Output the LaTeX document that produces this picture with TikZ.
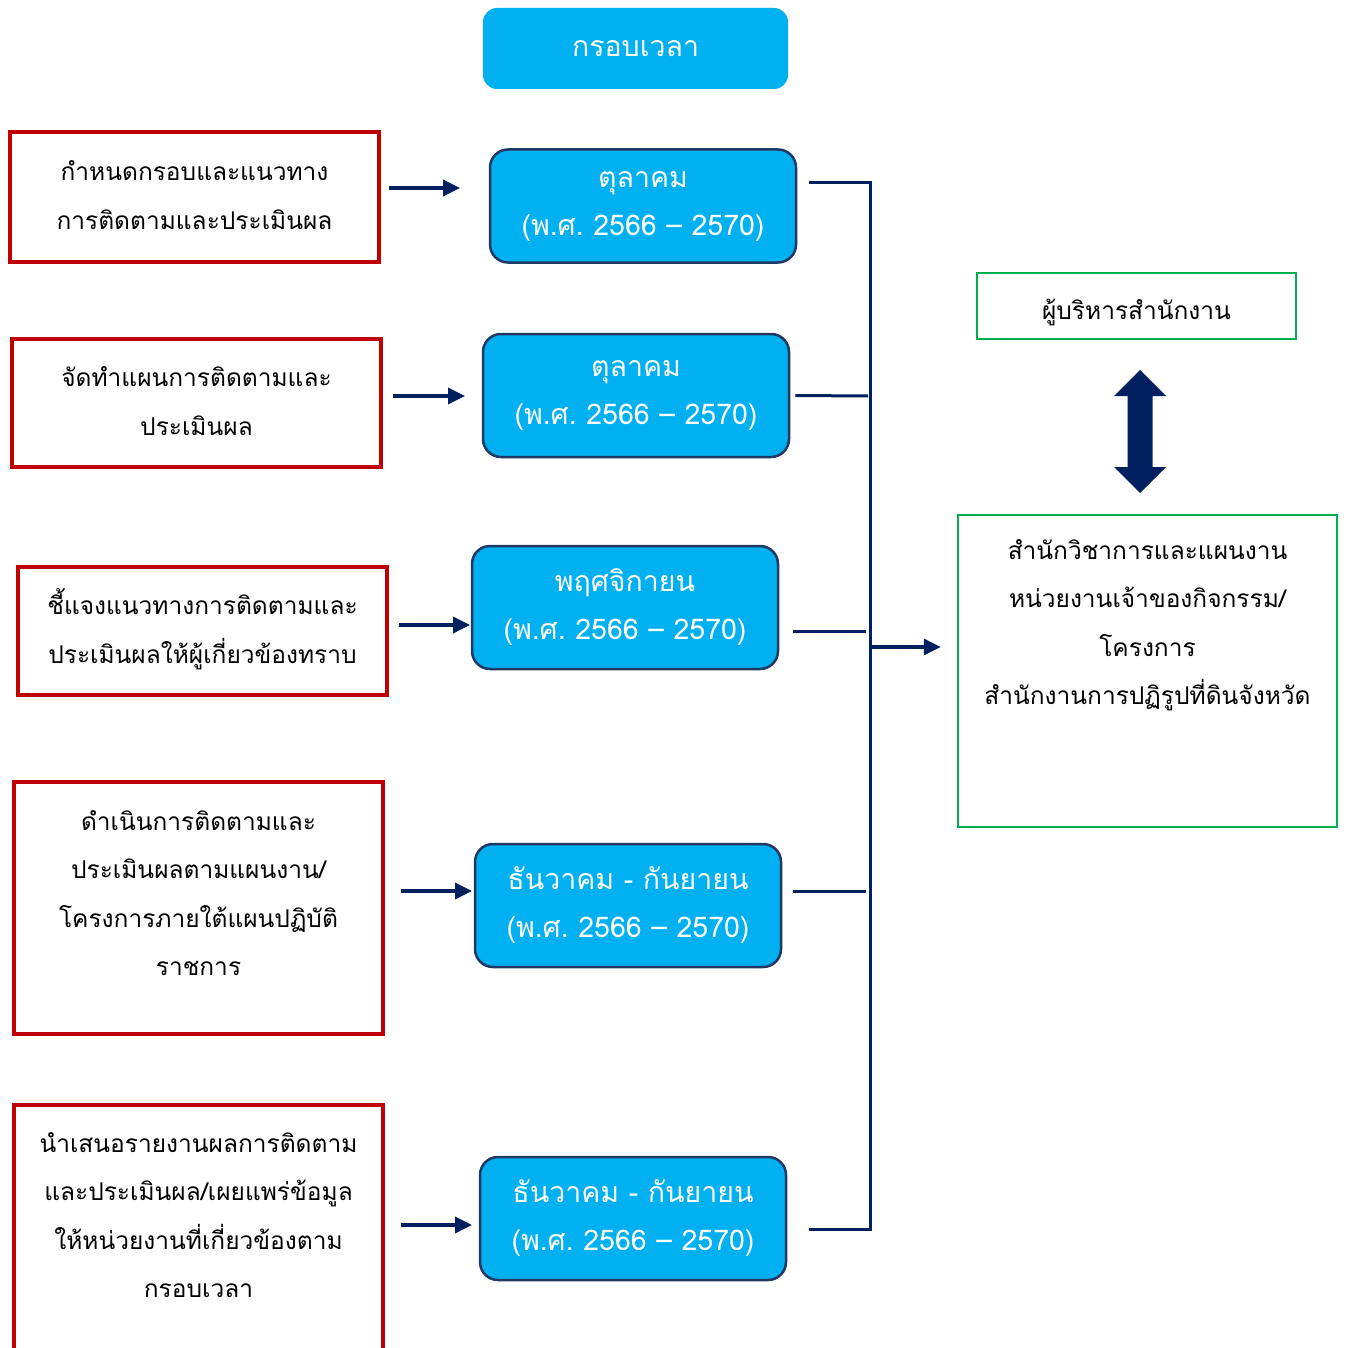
\documentclass[tikz,border=0pt]{standalone}
\usepackage{fontspec}
\newfontfamily\thai[Script=Thai]{Loma}
\usetikzlibrary{arrows.meta,calc}
\definecolor{navy}{HTML}{002060}
\definecolor{cyanb}{HTML}{00B0F0}
\definecolor{redb}{HTML}{C00000}
\definecolor{greenb}{HTML}{00B050}
\definecolor{bord}{HTML}{203864}
\frenchspacing
\begin{document}
\begin{tikzpicture}[x=1pt,y=-1pt,
  redbox/.style={draw=redb,line width=3.5pt,inner sep=0pt,minimum width=369pt},
  greenbox/.style={draw=greenb,line width=2.5pt,inner sep=0pt},
  bluebox/.style={draw=bord,fill=cyanb,line width=2.5pt,rounded corners=18pt,inner sep=0pt,
     minimum width=306pt,minimum height=123pt,text=white,align=center,
     font=\thai\fontsize{28.5}{48}\selectfont},
  topbox/.style={fill=cyanb,rounded corners=14pt,inner sep=0pt,minimum width=305pt,minimum height=81pt,
     text=white,font=\thai\fontsize{28.5}{34}\selectfont},
  txt/.style={align=center,inner sep=0pt,font=\thai\fontsize{24.5}{48.5}\selectfont,text=black},
  arr/.style={draw=navy,line width=3.5pt,-{Triangle[length=17pt,width=16pt]}},
  conn/.style={draw=navy,line width=3pt}]
\useasboundingbox (0,0) rectangle (1346,1348);
\clip (0,0) rectangle (1346,1348);
\fill[white] (0,0) rectangle (1346,1348);

% top box
\node[topbox] (top) at (635.5,48.5) {กรอบเวลา};

% red boxes
\node[redbox,minimum height=130pt] (r1) at (194.5,197) {};
\node[txt] (t1) at (194.5,195) {กำหนดกรอบและแนวทาง\\การติดตามและประเมินผล};
\node[redbox,minimum height=128pt] (r2) at (196.5,403) {};
\node[txt] (t2) at (196.5,401) {จัดทำแผนการติดตามและ\\ประเมินผล};
\node[redbox,minimum height=128pt] (r3) at (202.5,631) {};
\node[txt] (t3) at (202.5,629) {ชี้แจงแนวทางการติดตามและ\\ประเมินผลให้ผู้เกี่ยวข้องทราบ};
\node[redbox,minimum height=252pt] (r4) at (198.5,908) {};
\node[txt] (t4) at (198.5,893) {ดำเนินการติดตามและ\\ประเมินผลตามแผนงาน/\\โครงการภายใต้แผนปฏิบัติ\\ราชการ};
\node[redbox,minimum height=255pt] (r5) at (198.5,1232.5) {};
\node[txt] (t5) at (198.5,1215) {นำเสนอรายงานผลการติดตาม\\และประเมินผล/เผยแพร่ข้อมูล\\ให้หน่วยงานที่เกี่ยวข้องตาม\\กรอบเวลา};

% blue boxes
\node[bluebox,minimum height=113pt] (b1) at (643,206) {ตุลาคม\\(พ.ศ. 2566 – 2570)};
\node[bluebox] (b2) at (636,395.5) {ตุลาคม\\(พ.ศ. 2566 – 2570)};
\node[bluebox] (b3) at (625,607.5) {พฤศจิกายน\\(พ.ศ. 2566 – 2570)};
\node[bluebox] (b4) at (628,905.5) {ธันวาคม - กันยายน\\(พ.ศ. 2566 – 2570)};
\node[bluebox] (b5) at (633,1218.5) {ธันวาคม - กันยายน\\(พ.ศ. 2566 – 2570)};

% green boxes
\node[greenbox,minimum width=319pt,minimum height=66pt] (g1) at (1136.5,306) {};
\node[txt] (tg1) at (1136.5,312) {ผู้บริหารสำนักงาน};
\node[greenbox,minimum width=379pt,minimum height=312pt] (g2) at (1147.5,671) {};
\node[txt] (tg2) at (1147.5,625) {สำนักวิชาการและแผนงาน\\หน่วยงานเจ้าของกิจกรรม/\\โครงการ\\สำนักงานการปฏิรูปที่ดินจังหวัด};

% left arrows
\coordinate (e1) at (460,188);
\coordinate (e2) at (465,396);
\coordinate (e3) at (470,625);
\coordinate (e4) at (472,891);
\coordinate (e5) at (472,1225);
\draw[arr] ($(r1.east|-e1)+(8,0)$) -- (e1);
\draw[arr] ($(r2.east|-e2)+(10,0)$) -- (e2);
\draw[arr] ($(r3.east|-e3)+(10,0)$) -- (e3);
\draw[arr] ($(r4.east|-e4)+(16,0)$) -- (e4);
\draw[arr] ($(r5.east|-e5)+(16,0)$) -- (e5);

% right bracket
\coordinate (vtop) at (870,183);
\coordinate (vbot) at (870,1229);
\coordinate (bus) at (870,647);
\draw[conn] ($(b1.east|-vtop)+(12,0)$) -- (vtop) -- (vbot) -- ($(b5.east|-vbot)+(22,0)$);
\draw[conn] ($(b2.east)+(5,0)$) -- (868,396);
\draw[conn] ($(b3.east|-0,631)+(14,0)$) -- (866,631);
\draw[conn] ($(b4.east|-0,891)+(11,0)$) -- (866,891);
\draw[arr,line width=3.5pt] (bus) -- ($(g2.west|-bus)+(-16,0)$);

% double arrow
\fill[navy] (1140,370) -- (1166,396) -- (1152.5,396) -- (1152.5,467) -- (1166,467) -- (1140,493)
  -- (1114,467) -- (1127.5,467) -- (1127.5,396) -- (1114,396) -- cycle;
\end{tikzpicture}
\end{document}
